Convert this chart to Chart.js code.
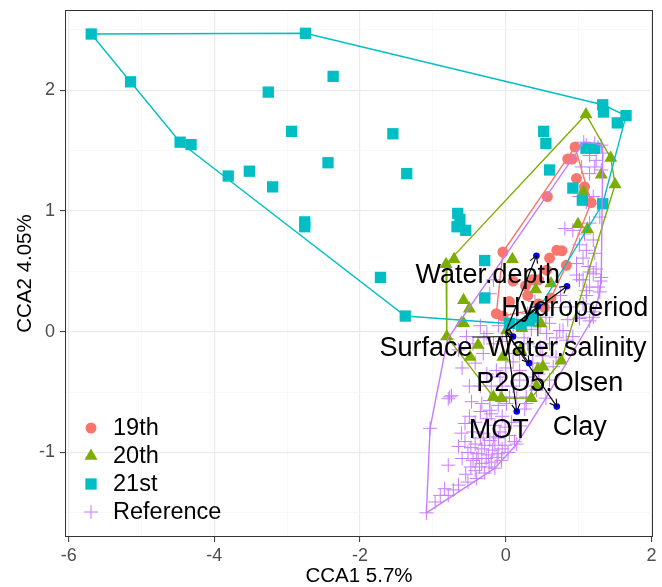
<!DOCTYPE html>
<html>
<head>
<meta charset="utf-8">
<title>CCA biplot</title>
<script src="https://cdn.jsdelivr.net/npm/chart.js@4.4.1/dist/chart.umd.min.js"></script>
<style>
  html, body { margin: 0; padding: 0; background: #fff; }
  #wrap { width: 662px; height: 587px; }
</style>
</head>
<body>
<div id="wrap"><canvas id="cca" width="662" height="587"></canvas></div>
<script>
// Site scores per period (CCA1, CCA2)
const pts19 = [
  [0.95,1.53],[0.85,1.43],[0.91,1.43],[0.97,1.27],[1.08,1.20],[1.17,1.07],[0.57,1.12],
  [-0.04,0.66],[0.60,0.61],[0.70,0.675],[0.77,0.67],[0.83,0.55],[0.56,0.51],[0.45,0.43],
  [0.36,0.43],[0.27,0.38],[0.10,0.42],[0.45,0.23],[0.53,0.20],[-0.13,0.15],[-0.04,0.13],
  [0.30,0.30],[0.05,0.25],[0.62,0.28]
];
const pts20 = [
  [1.10,1.80],[1.44,1.44],[1.31,1.30],[1.50,1.22],[1.07,1.16],[0.99,0.89],[1.12,0.85],
  [-0.71,0.60],[-0.82,0.56],[0.09,0.60],[0.41,0.35],[0.62,0.40],[-0.58,0.26],[-0.50,0.19],
  [-0.58,0.07],[-0.81,-0.04],[-0.61,0.07],[-0.38,-0.11],[-0.49,-0.21],[0.01,0.01],[-0.04,-0.21],
  [0.22,0.03],[0.48,0.07],[0.76,-0.24],[0.51,-0.29],[0.44,-0.31],[-0.17,-0.54],[-0.06,-0.55],
  [0.35,-0.55],[0.42,-0.45],[0.20,-0.15]
];
const pts21 = [
  [-5.69,2.466],[-2.75,2.472],[-5.15,2.07],[-2.37,2.115],[-3.26,1.985],[-4.47,1.57],[-4.32,1.55],
  [-2.94,1.66],[-1.55,1.64],[-3.81,1.29],[-3.52,1.33],[-2.44,1.40],[-3.20,1.20],[-1.36,1.31],
  [-2.76,0.91],[-2.76,0.87],[-0.66,0.98],[-0.63,0.93],[-0.67,0.87],[-0.55,0.84],[-1.72,0.45],
  [-1.38,0.13],[-0.29,0.59],[-0.29,0.28],[1.33,1.88],[1.34,1.82],[1.65,1.79],[1.53,1.73],
  [0.52,1.66],[0.55,1.56],[0.60,1.34],[0.92,1.19],[1.10,1.52],[1.22,1.52],[1.05,1.09],
  [1.33,1.06],[0.05,0.07],[0.21,0.06],[0.33,0.09],[0.38,0.12]
];
const ptsRef = [
  [1.07,1.57],[1.105,1.545],[1.22,1.56],[1.265,1.53],[1.31,1.545],[1.15,1.46],[1.24,1.42],
  [1.33,1.48],[1.04,1.365],[1.15,1.31],[1.22,1.365],[1.31,1.34],[1.01,1.12],[1.105,1.075],
  [1.20,1.12],[1.265,1.06],[1.29,0.95],[1.15,0.90],[0.81,0.855],[0.92,0.84],[1.08,0.81],
  [1.20,0.76],[1.01,0.72],[1.105,0.675],[1.22,0.65],[0.97,0.565],[1.13,0.54],[1.20,0.48],
  [1.06,0.43],[1.15,0.37],[1.265,0.37],[1.31,0.45],[1.06,0.61],[1.15,0.495],[0.97,0.47],
  [1.24,0.52],[1.29,0.33],[1.105,0.30],[1.20,0.165],[1.01,0.11],[1.20,0.12],[1.15,0.09],
  [-0.26,-0.015],[-0.17,-0.10],[0.47,0.04],[0.60,0.07],[0.785,0.01],[0.92,-0.04],[1.01,0.12],
  [0.88,0.205],[0.37,-0.26],[0.65,-0.29],[-0.13,-0.32],[0.19,-0.40],[0.42,-0.485],[-0.22,-0.65],
  [-0.08,-0.54],[0.28,-0.595],[-0.17,0.43],[-0.22,0.315],[1.06,0.23],[1.105,0.34],[1.01,0.43],
  [0.05,-0.18],[0.19,-0.18],[0.47,-0.125],[0.60,-0.10],[0.83,-0.07],[0.74,0.01],[0.56,-0.015],
  [0.69,-0.21],[0.51,-0.26],[0.19,-0.32],[0.37,-0.375],[-0.08,-0.375],[-0.26,-0.35],[-0.31,-0.18],
  [-0.42,-0.26],[0.05,-0.54],[0.28,-0.54],[-0.54,-0.04],[-0.77,-0.54],[-0.80,-0.06],
  [0.10,0.05],[0.25,-0.05],[0.35,0.02],[-0.05,-0.08],[0.15,0.10],[0.30,0.15],[0.55,0.12],
  [0.65,0.20],[0.75,0.30],[0.40,0.25],[-0.10,0.05],[-0.35,0.05],[-0.45,-0.10],[0.00,-0.30],
  [0.10,-0.45],[0.45,-0.35],[0.60,-0.40],[0.55,-0.55],[1.30,0.42],
  [-0.60,-0.30],[-0.50,-0.45],[-0.35,-0.45],[-0.20,-0.45],[-0.05,-0.45],[0.15,-0.55],[0.35,-0.45],
  [-0.65,-0.15],[-0.30,-0.05],[0.10,-0.25],[0.30,-0.10],[0.85,0.10],[0.70,-0.05],[0.50,-0.20],
  [-0.79,-0.555],[-0.47,-0.58],[-0.33,-0.595],[-0.22,-0.57],[-0.105,-0.61],[0.01,-0.595],
  [0.26,-0.64],[-1.04,-0.80],[-0.56,-0.76],[-0.42,-0.75],[-0.26,-0.72],[-0.15,-0.775],
  [-0.01,-0.79],[-0.61,-0.84],[-0.45,-0.83],[-0.31,-0.84],[-0.17,-0.87],[-0.08,-0.83],
  [-0.56,-0.91],[-0.42,-0.93],[-0.29,-0.94],[-0.15,-0.94],[-0.01,-0.94],[0.12,-0.91],
  [0.15,-0.93],[-0.52,-1.0],[-0.38,-1.01],[-0.24,-1.02],[-0.105,-1.01],[0.03,-1.0],
  [-0.79,-1.105],[-0.45,-1.065],[-0.33,-1.09],[-0.20,-1.08],[-0.06,-1.065],[-0.42,-1.15],
  [-0.29,-1.17],[-0.15,-1.13],[-0.65,-1.27],[-0.52,-1.245],[-0.40,-1.215],[-0.84,-1.30],
  [-0.72,-1.31],[-0.90,-1.355],[-0.97,-1.41],[-0.79,-1.355],[-1.09,-1.50],[-0.745,-0.53],
  [-0.35,-0.88],[-0.22,-0.90],[-0.10,-0.88],[0.05,-0.86],[-0.48,-0.96],[-0.33,-0.97],
  [-0.18,-0.98],[-0.05,-0.97],[-0.40,-1.05],[-0.27,-1.05],[-0.12,-1.04],[-0.36,-1.12],
  [-0.23,-1.12],[-0.55,-1.18],[-0.48,-1.12],[-0.60,-1.05],[-0.65,-0.95],[-0.50,-0.70],
  [-0.35,-0.66],[-0.20,-0.68],[-0.05,-0.70],[0.08,-0.75],[0.20,-0.78]
];

// Environmental vectors (arrow tips)
const envNames = ['Water.depth', 'Hydroperiod', 'Water.salinity', 'Surface', 'P2O5.Olsen', 'MOT', 'Clay'];
const envX = [0.42, 0.84, 0.44, 0.10, 0.32, 0.15, 0.70];
const envY = [0.63, 0.377, 0.21, -0.04, -0.26, -0.66, -0.62];

// Axis ticks
const xTicks = [-6, -5, -4, -3, -2, -1, 0, 1, 2];
const yTicks = [-1.5, -1, -0.5, 0, 0.5, 1, 1.5, 2, 2.5];

// Groups
const groups = ['19th', '20th', '21st', 'Reference'];
const groupPts = [pts19, pts20, pts21, ptsRef];
const groupColors = ['#F8766D', '#7CAE00', '#00BFC4', '#C77CFF'];
const groupShapes = ['circle', 'triangle', 'rect', 'cross'];
const groupRadius = [5.5, 7.5, 8, 7];

// Repelled label positions (data units)
const labelAt = [
  [-0.247, 0.463], [0.945, 0.195], [0.836, -0.137], [-1.096, -0.143],
  [0.603, -0.427], [-0.096, -0.820], [1.014, -0.795]
];

// Convex hull (monotone chain)
const convexHull = (pairs) => {
  const p = pairs.map(([x, y]) => ({ x, y })).sort((a, b) => a.x - b.x || a.y - b.y);
  const cross = (o, a, b) => (a.x - o.x) * (b.y - o.y) - (a.y - o.y) * (b.x - o.x);
  const lower = [];
  for (const q of p) {
    while (lower.length >= 2 && cross(lower[lower.length - 2], lower[lower.length - 1], q) <= 0) lower.pop();
    lower.push(q);
  }
  const upper = [];
  for (const q of p.slice().reverse()) {
    while (upper.length >= 2 && cross(upper[upper.length - 2], upper[upper.length - 1], q) <= 0) upper.pop();
    upper.push(q);
  }
  lower.pop(); upper.pop();
  const h = lower.concat(upper);
  h.push(h[0]);
  return h;
};

const datasets = [];

// Points (reference drawn underneath)
groups.forEach((g, i) => {
  datasets.push({
    label: g,
    data: groupPts[i].map(([x, y]) => ({ x, y })),
    pointStyle: groupShapes[i],
    pointRadius: groupRadius[i],
    backgroundColor: groupColors[i],
    borderColor: groupColors[i],
    borderWidth: groupShapes[i] === 'cross' ? 1 : 0,
    showLine: false,
    order: i === 3 ? 20 : 13 - i
  });
});

// Hulls
groups.forEach((g, i) => {
  datasets.push({
    label: g + ' hull',
    data: convexHull(groupPts[i]),
    showLine: true,
    fill: false,
    pointRadius: 0,
    borderColor: groupColors[i],
    borderWidth: 1.4,
    tension: 0,
    order: 8 - i
  });
});

// Arrows from the origin
envNames.forEach((n, i) => {
  datasets.push({
    label: n,
    data: [{ x: 0, y: 0 }, { x: envX[i], y: envY[i] }],
    showLine: true,
    fill: false,
    borderColor: '#000',
    borderWidth: 1.1,
    pointRadius: (c) => (c.dataIndex === 1 ? 3.3 : 0),
    pointBackgroundColor: '#0000FF',
    pointBorderWidth: 0,
    order: 1
  });
});

// Arrowheads, repel segments and labels
const biplotText = {
  id: 'biplotText',
  afterDatasetsDraw(chart) {
    const { ctx, scales: { x, y } } = chart;
    ctx.save();
    ctx.strokeStyle = '#000';
    ctx.lineWidth = 1.1;
    envNames.forEach((n, i) => {
      const x0 = x.getPixelForValue(0), y0 = y.getPixelForValue(0);
      const x1 = x.getPixelForValue(envX[i]), y1 = y.getPixelForValue(envY[i]);
      const a = Math.atan2(y1 - y0, x1 - x0);
      const len = 8, spread = Math.PI / 6;
      ctx.beginPath();
      ctx.moveTo(x1 - len * Math.cos(a - spread), y1 - len * Math.sin(a - spread));
      ctx.lineTo(x1, y1);
      ctx.lineTo(x1 - len * Math.cos(a + spread), y1 - len * Math.sin(a + spread));
      ctx.stroke();
    });

    ctx.font = '27px "Liberation Sans", Arial, sans-serif';
    ctx.textAlign = 'center';
    ctx.textBaseline = 'middle';
    envNames.forEach((n, i) => {
      const cx = x.getPixelForValue(labelAt[i][0]), cy = y.getPixelForValue(labelAt[i][1]);
      const tx = x.getPixelForValue(envX[i]), ty = y.getPixelForValue(envY[i]);
      const w = ctx.measureText(n).width, h = 24;
      const nx = Math.max(cx - w / 2, Math.min(tx, cx + w / 2));
      const ny = Math.max(cy - h / 2, Math.min(ty, cy + h / 2));
      if (Math.hypot(nx - tx, ny - ty) > 15) {
        ctx.lineWidth = 1;
        ctx.beginPath();
        ctx.moveTo(tx, ty);
        ctx.lineTo(nx, ny);
        ctx.stroke();
      }
    });
    ctx.fillStyle = '#000';
    envNames.forEach((n, i) => {
      ctx.fillText(n, x.getPixelForValue(labelAt[i][0]), y.getPixelForValue(labelAt[i][1]));
    });
    ctx.restore();
  },
  afterDraw(chart) {
    const { ctx, chartArea: a } = chart;
    ctx.save();
    // panel border
    ctx.strokeStyle = '#333333';
    ctx.lineWidth = 1;
    ctx.strokeRect(a.left + 0.5, a.top + 0.5, a.right - a.left - 1, a.bottom - a.top - 1);
    // legend inside the panel
    ctx.font = '23.5px "Liberation Sans", Arial, sans-serif';
    ctx.textAlign = 'left';
    ctx.textBaseline = 'middle';
    const rows = [428, 456, 484, 512];
    groups.forEach((g, i) => {
      ctx.fillStyle = groupColors[i];
      ctx.strokeStyle = groupColors[i];
      ctx.lineWidth = 1;
      Chart.helpers.drawPoint(ctx, {
        pointStyle: groupShapes[i],
        radius: groupRadius[i],
        rotation: 0,
        borderWidth: groupShapes[i] === 'cross' ? 1 : 0
      }, a.left + 26, rows[i]);
      ctx.fillStyle = '#000';
      ctx.fillText(g, a.left + 48, rows[i] + 1);
    });
    ctx.restore();
  }
};

const tickFont = { family: '"Liberation Sans", Arial, sans-serif', size: 18 };
const titleFont = { family: '"Liberation Sans", Arial, sans-serif', size: 20.5, lineHeight: 1 };

new Chart(document.getElementById('cca'), {
  type: 'scatter',
  data: { datasets },
  options: {
    responsive: false,
    animation: false,
    events: [],
    layout: { padding: { top: 10, right: 9, left: 0, bottom: 0 } },
    plugins: { legend: { display: false }, tooltip: { enabled: false } },
    scales: {
      x: {
        type: 'linear',
        min: -6.05,
        max: 2.02,
        afterBuildTicks: (s) => { s.ticks = xTicks.map((v) => ({ value: v })); },
        afterFit: (s) => { s.height = 50; s.paddingLeft = 0; s.paddingRight = 0; },
        border: { display: false },
        grid: {
          color: (c) => (c.tick && c.tick.value % 2 === 0 ? '#EBEBEB' : '#F5F5F5'),
          lineWidth: (c) => (c.tick && c.tick.value % 2 === 0 ? 1.2 : 0.7),
          tickColor: (c) => (c.tick && c.tick.value % 2 === 0 ? '#333333' : 'rgba(0,0,0,0)'),
          tickWidth: 1,
          tickLength: 5
        },
        ticks: {
          autoSkip: false,
          maxRotation: 0,
          padding: 3,
          color: '#4D4D4D',
          font: tickFont,
          callback: (v) => (v % 2 === 0 ? String(v) : '')
        },
        title: { display: true, text: 'CCA1 5.7%', color: '#000', font: titleFont, padding: { top: 0, bottom: 0 } }
      },
      y: {
        type: 'linear',
        min: -1.70,
        max: 2.665,
        afterBuildTicks: (s) => { s.ticks = yTicks.map((v) => ({ value: v })); },
        afterFit: (s) => { s.width = 65; s.paddingTop = 0; s.paddingBottom = 0; },
        border: { display: false },
        grid: {
          color: (c) => (c.tick && c.tick.value % 1 === 0 ? '#EBEBEB' : '#F5F5F5'),
          lineWidth: (c) => (c.tick && c.tick.value % 1 === 0 ? 1.2 : 0.7),
          tickColor: (c) => (c.tick && c.tick.value % 1 === 0 ? '#333333' : 'rgba(0,0,0,0)'),
          tickWidth: 1,
          tickLength: 5
        },
        ticks: {
          autoSkip: false,
          padding: 5,
          color: '#4D4D4D',
          font: tickFont,
          callback: (v) => (v % 1 === 0 ? String(v) : '')
        },
        title: { display: true, text: 'CCA2 4.05%', color: '#000', font: titleFont, padding: { top: 14.75, bottom: 0 } }
      }
    }
  },
  plugins: [biplotText]
});
</script>
</body>
</html>
